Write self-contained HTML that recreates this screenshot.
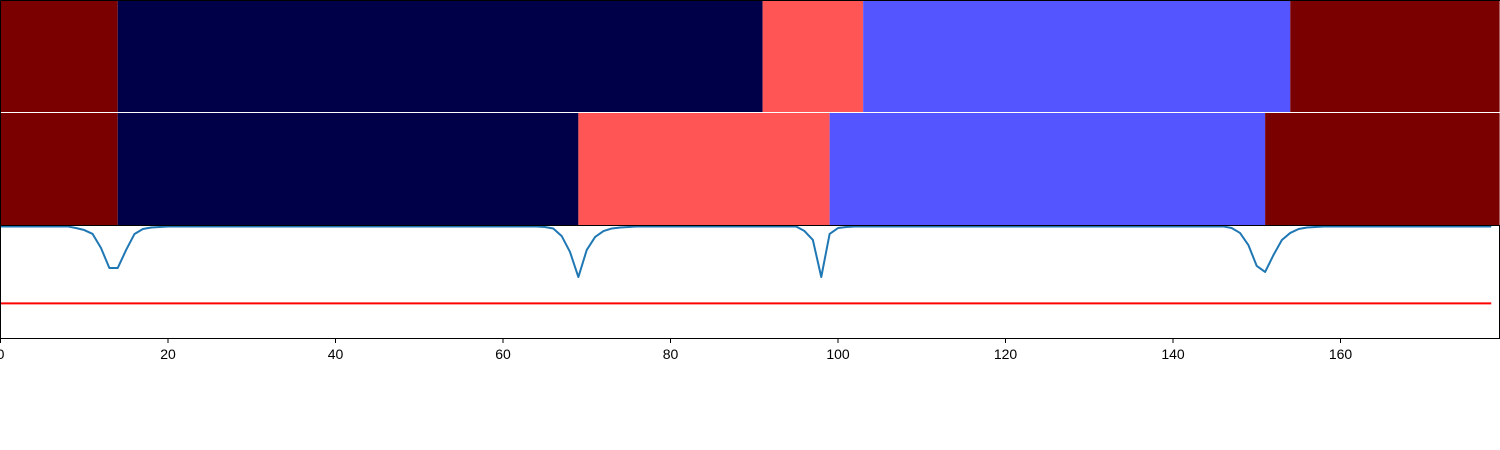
<!DOCTYPE html>
<html><head><meta charset="utf-8"><style>
body{margin:0;background:#fff;}
svg{display:block;font-family:"Liberation Sans","DejaVu Sans",sans-serif;}
</style></head><body>
<svg id="chart" width="1500" height="450" xmlns="http://www.w3.org/2000/svg"></svg>
<script>
const topStarts=[0,14,91,103,154];
const topLabels=[3,0,2,1,3];
const midStarts=[0,14,69,99,151];
const midLabels=[3,0,2,1,3];
const xEnd=179;
const dipIdx=[8,9,10,11,12,13,14,15,16,17,18,19,
64,65,66,67,68,69,70,71,72,73,74,75,
95,96,97,98,99,100,101,
146,147,148,149,150,151,152,153,154,155,156,157];
const dipVal=[0.997,0.983,0.965,0.930,0.804,0.626,0.626,0.787,0.930,0.974,0.988,0.992,
0.997,0.992,0.979,0.912,0.769,0.545,0.787,0.903,0.956,0.979,0.988,0.992,
0.997,0.956,0.876,0.545,0.930,0.983,0.992,
0.997,0.983,0.939,0.831,0.644,0.590,0.742,0.876,0.939,0.974,0.988,0.992];
const baseVal=0.997;
const threshold=0.31;
const nPts=179;
const xTicks=[0,20,40,60,80,100,120,140,160];
const colors=["#000048","#5555ff","#ff5555","#7a0000"];

const NS="http://www.w3.org/2000/svg";
const svg=document.getElementById('chart');
const X=v=>0.5+v*8.375;
const Y=v=>338-v/1.01*113;
function el(t,a){const e=document.createElementNS(NS,t);for(const k in a)e.setAttribute(k,a[k]);svg.appendChild(e);return e;}

function bands(starts,labels,y0,h,name){
  starts.forEach((s,i)=>{
    const e=(i+1<starts.length?starts[i+1]:xEnd);
    const r=el('rect',{x:X(s),y:y0,width:X(e)-X(s),height:h,fill:colors[labels[i]]});
    
    
  });
}
bands(topStarts,topLabels,0,112,'top-band');
bands(midStarts,midLabels,113,112,'middle-band');

const vals=[];for(let i=0;i<nPts;i++)vals.push(baseVal);
dipIdx.forEach((k,j)=>vals[k]=dipVal[j]);
const pl=el('polyline',{points:vals.map((v,i)=>X(i)+','+Y(v)).join(' '),fill:'none',stroke:'#1f77b4','stroke-width':2,'stroke-linejoin':'round'});


const th=el('line',{x1:X(0),x2:X(nPts-1),y1:Y(threshold),y2:Y(threshold),stroke:'#ff0000','stroke-width':2});



const ax=el('path',{d:'M0.5,0.5 V338.5 H1499.5 V225 M0,0.5 H1500',stroke:'#000',fill:'none','stroke-width':1});


el('line',{x1:0,x2:1500,y1:225.5,y2:225.5,stroke:'#000','stroke-width':1});
xTicks.forEach(t=>{
  const tk=el('line',{x1:X(t),x2:X(t),y1:338,y2:343,stroke:'#000','stroke-width':1});
  
  
  const tx=el('text',{x:X(t),y:359,'text-anchor':'middle','font-size':14,fill:'#000'});
  tx.textContent=t;
  
  
});
</script>
</body></html>
